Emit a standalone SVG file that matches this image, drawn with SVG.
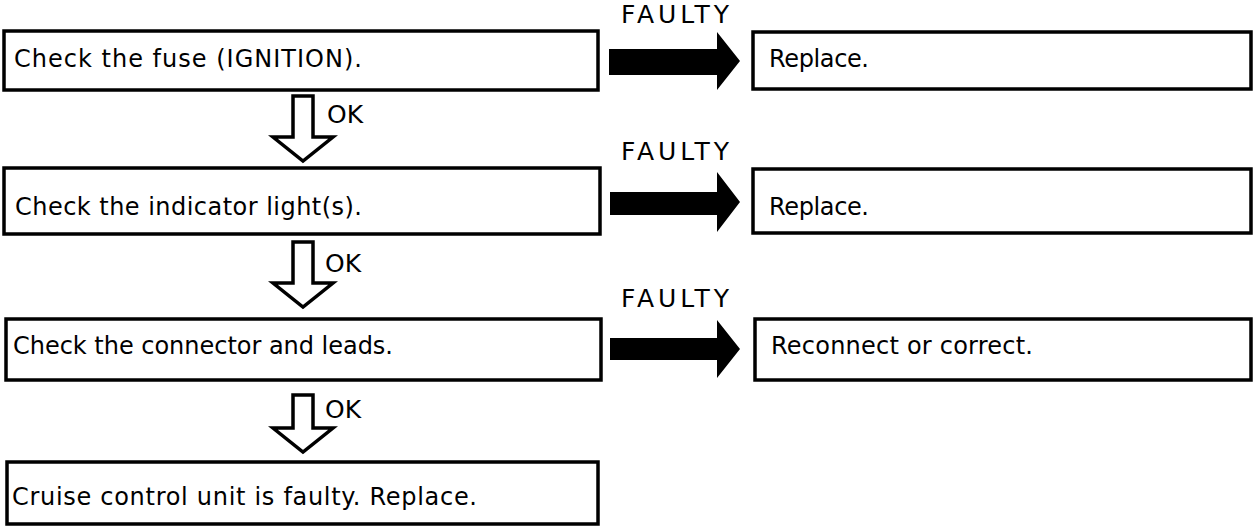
<svg xmlns="http://www.w3.org/2000/svg" width="1254" height="529" viewBox="0 0 1254 529">
<style>
  .box { fill: #fff; stroke: #000; stroke-width: 3.5; }
  .t { font-family: "DejaVu Sans", "Liberation Sans", Arial, sans-serif; font-size: 24px; fill: #000; }
  .lbl { font-family: "DejaVu Sans", "Liberation Sans", Arial, sans-serif; font-size: 25px; fill: #000; }
  .hollow { fill: #fff; stroke: #000; stroke-width: 3.5; stroke-linejoin: miter; }
  .solid { fill: #000; stroke: none; }
</style>
<rect width="1254" height="529" fill="#fff"/>

<g id="check-fuse">
  <rect class="box" x="4" y="31" width="594" height="59"/>
  <text class="t" x="14" y="67" textLength="348" lengthAdjust="spacing">Check the fuse (IGNITION).</text>
</g>
<g id="replace-1">
  <rect class="box" x="753" y="32" width="498" height="57"/>
  <text class="t" x="769" y="67" textLength="100" lengthAdjust="spacing">Replace.</text>
</g>

<g id="check-indicator">
  <rect class="box" x="4" y="168" width="596" height="66"/>
  <text class="t" x="15" y="215" textLength="347" lengthAdjust="spacing">Check the indicator light(s).</text>
</g>
<g id="replace-2">
  <rect class="box" x="753" y="169" width="498" height="64"/>
  <text class="t" x="769" y="215" textLength="100" lengthAdjust="spacing">Replace.</text>
</g>

<g id="check-connector">
  <rect class="box" x="6" y="319" width="595" height="61"/>
  <text class="t" x="13" y="354" textLength="380" lengthAdjust="spacing">Check the connector and leads.</text>
</g>
<g id="reconnect">
  <rect class="box" x="755" y="319" width="496" height="61"/>
  <text class="t" x="771" y="354" textLength="262" lengthAdjust="spacing">Reconnect or correct.</text>
</g>

<g id="unit-faulty">
  <rect class="box" x="7" y="462" width="591" height="62"/>
  <text class="t" x="12" y="505" textLength="465" lengthAdjust="spacing">Cruise control unit is faulty. Replace.</text>
</g>

<g id="connectors">
  <path class="solid" d="M609,49 H717 V32 L740,61 L717,90 V75 H609 Z"/>
  <path class="solid" d="M610,192 H717 V172 L740,202 L717,232 V215 H610 Z"/>
  <path class="solid" d="M610,338 H717 V320 L740,349 L717,378 V360 H610 Z"/>
  <text class="lbl" x="621" y="23" textLength="108" lengthAdjust="spacing">FAULTY</text>
  <text class="lbl" x="621" y="160" textLength="108" lengthAdjust="spacing">FAULTY</text>
  <text class="lbl" x="621" y="307" textLength="108" lengthAdjust="spacing">FAULTY</text>

  <path class="hollow" d="M293,96 H313 V137 H333 L303,161 L273,137 H293 Z"/>
  <path class="hollow" d="M293,242 H313 V283 H333 L303,307 L273,283 H293 Z"/>
  <path class="hollow" d="M293,395 H313 V428 H333 L303,452 L273,428 H293 Z"/>
  <text class="lbl" x="327" y="123">OK</text>
  <text class="lbl" x="325" y="272">OK</text>
  <text class="lbl" x="325" y="418">OK</text>
</g>
</svg>
